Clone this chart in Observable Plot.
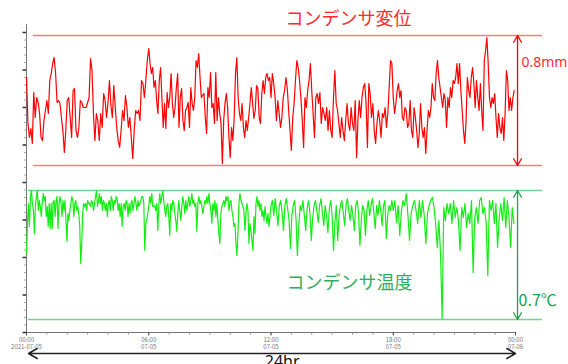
<!DOCTYPE html>
<html><head><meta charset="utf-8">
<script src="https://cdn.jsdelivr.net/npm/d3@7"></script>
<script src="https://cdn.jsdelivr.net/npm/@observablehq/plot@0.6"></script>
<style>html,body{margin:0;padding:0;background:#fff;overflow:hidden;} #chart svg{display:block;}</style>
</head><body><div id="chart"></div>
<script>
// Condenser displacement (raw sensor units), four 6-hour blocks
const dispQ1 = [10.20,8.36,7.80,8.16,7.56,9.60,8.60,9.40,9.20,8.76,7.80,7.68,8.48,8.88,9.28,8.76,10.08,10.36,10.76,11.00,10.36,9.20,9.28,9.16,8.60,8.08,7.20,8.08,9.28,9.40,8.60,7.80,9.68,9.76,8.08,7.80,8.20,9.28,9.20,9.00,9.00,9.00,9.20,9.40,10.96,10.48,8.76,7.68,8.76,8.48,7.68,8.76,8.20,9.56,9.28,8.60,9.20,10.08,9.08,8.60,9.88,9.00,8.20,7.68,7.40,8.08,8.88,8.48,9.48,9.00,8.20,8.60,7.80,6.96,8.08,8.88,8.76,8.88,8.48,10.08,9.96,9.40,10.08,10.88];
const dispQ2 = [11.36,10.76,10.36,10.60,9.80,10.08,9.28,8.76,10.08,10.60,9.40,8.20,9.16,8.16,9.60,9.00,9.40,10.36,9.16,8.60,9.00,9.80,10.36,8.20,9.40,9.76,8.48,8.08,8.88,9.00,9.20,8.20,9.80,9.16,8.88,9.40,10.88,10.60,11.16,10.20,9.40,9.48,9.56,8.60,7.96,9.80,9.40,10.40,9.00,9.16,8.36,10.40,8.48,9.40,8.76,8.36,6.76,8.48,9.16,9.56,9.00,7.80,7.00,8.20,7.68,8.60,10.36,11.00,9.40,8.76,8.48,9.16,8.20,7.80,8.48,8.08,8.60,9.16,9.80,9.16,8.56,8.88,9.88,9.76,8.60,8.36,9.56,10.08,9.56,10.20,10.36,10.08,10.20];
const dispQ3 = [9.40,10.36,9.96,9.40,8.48,9.28,8.76,8.20,8.60,9.40,9.68,10.20,9.76,8.88,8.08,7.28,8.60,9.16,10.08,10.88,10.60,10.08,9.40,8.48,7.40,9.40,9.00,9.68,10.08,10.76,9.68,8.76,7.80,9.40,9.56,9.16,9.60,8.36,9.00,8.76,8.48,9.00,8.08,8.88,8.08,7.80,9.40,10.48,9.16,8.88,8.36,7.80,8.60,8.08,7.68,8.48,9.16,8.36,8.08,9.00,8.36,8.08,9.28,7.00,8.48,9.28,8.60,9.40,9.80,9.96,9.16,7.40,9.96,9.56,8.60,9.16,8.08,7.56,8.36,8.88,8.48,7.80,8.76,8.60,9.00,8.20,8.76,9.80,10.88,10.76];
const dispQ4 = [9.40,8.76,9.16,9.68,9.96,9.40,9.68,8.60,8.48,9.00,8.88,8.20,8.36,9.28,8.08,7.80,9.00,8.60,8.08,7.40,7.96,9.16,8.20,7.80,8.20,7.16,8.08,8.88,8.60,9.00,9.96,9.40,9.28,10.36,10.88,10.20,9.80,9.40,9.00,9.56,9.28,8.20,9.40,9.00,9.80,9.40,10.08,9.96,10.20,10.76,9.96,10.76,9.68,8.88,8.08,7.56,8.48,10.20,9.68,9.40,10.20,10.60,9.96,9.00,10.08,9.40,8.88,9.96,8.88,8.08,10.88,11.28,11.80,10.76,9.40,9.00,9.40,9.16,9.56,8.60,7.80,8.76,8.20,7.96,8.60,7.68,8.76,10.48,10.08,8.88,9.40,8.88,9.40,9.68];

// Condenser temperature (raw sensor units), four 6-hour blocks
const tempQ1 = [3.16,4.36,5.16,4.24,5.44,5.68,5.16,4.88,3.96,5.04,5.44,5.68,4.88,5.28,5.04,4.64,5.16,5.56,5.28,5.44,4.64,5.04,4.24,5.16,4.16,5.16,4.16,5.24,5.28,4.64,5.28,5.44,4.16,5.16,5.44,5.16,4.64,5.28,4.88,5.28,4.48,3.64,4.76,4.48,4.88,5.16,5.44,5.28,4.64,5.16,5.28,4.88,5.04,4.76,4.24,2.76,3.56,4.76,5.16,5.04,5.16,4.88,5.28,5.16,5.16,5.04,5.28,5.16,4.88,5.16,5.44,5.68,5.04,5.28,5.56,5.16,5.44,4.88,5.28,5.16,4.88,5.16,4.64,5.16,5.28,4.88,5.44,5.28,4.88,5.28,5.16,5.44,5.28,4.88,5.16,4.64,5.16,4.24,5.04,5.16,4.88,5.28,5.16,4.64,5.16,4.76,5.16,5.28,4.88,5.16,5.44,5.16,4.88,5.28,5.04,5.16,5.28,5.44,5.44,5.16,3.28,4.36,4.48,4.76];
const tempQ2 = [5.04,5.44,5.16,5.56,5.04,5.08,5.04,4.88,5.16,4.08,5.04,5.56,5.16,5.44,5.68,5.28,4.88,4.64,5.04,5.16,4.64,3.88,5.16,4.88,5.28,5.16,4.76,4.48,4.04,4.76,5.28,4.88,4.48,5.04,5.44,5.16,4.76,5.28,4.88,5.16,5.44,5.04,5.28,5.56,5.16,5.28,5.04,5.16,4.04,5.16,5.44,5.16,5.28,5.04,4.76,5.04,5.28,5.16,5.44,5.16,5.56,5.16,4.88,4.36,5.16,4.88,5.28,4.64,5.16,4.48,3.96,3.56,4.76,5.04,5.16,5.28,5.04,5.44,5.28,5.44,4.88,5.16,5.28,4.88,4.64,4.24,4.36,3.56,3.08,3.96,5.16,5.56,5.28,5.16,5.04,4.88,4.08,4.76,5.16,4.88,3.56,4.36,4.08,3.68,3.28,4.64,3.96,5.16,5.44,5.04,5.28,4.88,5.16,4.64,4.88,4.48,5.04,4.64,4.36,4.76,4.24,4.64];
const tempQ3 = [5.08,5.28,4.68,5.36,4.88,4.28,5.08,5.28,4.80,4.08,5.08,5.36,4.96,4.48,3.36,4.68,5.08,5.28,4.56,3.08,4.28,5.08,4.88,5.28,4.68,4.08,4.96,5.28,4.80,3.68,4.56,5.08,5.28,4.88,4.40,5.08,5.36,4.80,4.28,5.08,4.68,4.00,4.96,5.28,4.68,3.28,4.40,5.08,3.68,4.68,5.08,5.28,4.80,4.28,5.08,5.36,4.88,4.48,5.08,4.68,4.08,5.08,5.28,4.80,3.48,4.48,5.08,4.88,3.88,4.88,5.28,4.68,5.08,5.36,4.80,4.16,5.08,4.68,5.28,4.88,4.28,5.08,5.28,3.76,4.68,5.08,4.88,5.28];
const tempQ4 = [4.88,5.28,4.40,5.08,3.88,4.88,5.28,5.08,5.56,4.68,3.68,4.76,5.08,5.28,4.88,4.36,5.28,4.60,5.28,4.68,3.56,4.76,5.08,5.28,5.40,5.00,4.36,3.40,4.48,3.16,0.56,5.00,4.48,5.16,4.76,5.16,4.36,5.28,4.60,5.00,4.48,3.28,5.00,4.60,5.16,4.20,4.76,4.36,5.28,2.40,4.60,5.00,4.36,5.28,5.40,4.76,5.00,4.36,2.28,5.28,4.88,5.28,4.36,5.16,3.40,4.60,5.16,4.48,5.40,4.20,5.28,4.60,3.40,5.00,4.36];

// Envelope (min / max) of each series
const dispBand = [6.68, 11.88];
const tempBand = [0.52, 5.68];

// Axis tick labels
const majorHours = [0, 6, 12, 18, 24];
const hourLabels = ["00:00", "06:00", "12:00", "18:00", "00:00"];
const dateLabels = ["2021-07-05", "07-05", "07-05", "07-05", "07-06"];
const yMajor = [0, 1.5, 3, 4.5, 6, 7.5, 9, 10.5, 12];

// Annotation texts
const dispTitle = "コンデンサ変位";
const tempTitle = "コンデンサ温度";
const dispRange = "0.8mm";
const tempRange = "0.7℃";
const spanLabel = "24hr";

const start = Date.UTC(2021, 6, 5);
const HOUR = 3600e3;
const hr = h => new Date(start + h * HOUR);

function toRows(blocks) {
  return blocks.flatMap((arr, q) => arr.map((v, i) => ({t: hr(q * 6 + 6 * i / arr.length), v})));
}
const disp = toRows([dispQ1, dispQ2, dispQ3, dispQ4]);
const temp = toRows([tempQ1, tempQ2, tempQ3, tempQ4]);

const yMinor = d3.range(0, 41).map(i => +(i * 0.3).toFixed(2));
const hourTicks = d3.range(0, 25).map(hr);

const red = "#ff0000", redLight = "#ff7a7a";
const green = "#11ee11", greenLight = "#6fd395", greenDark = "#22a052";

function doubleArrow(band) {
  const mid = (band[0] + band[1]) / 2;
  return [{a: mid, b: band[1]}, {a: mid, b: band[0]}];
}

const chart = Plot.plot({
  width: 568, height: 364,
  marginLeft: 26, marginRight: 53, marginTop: 24, marginBottom: 32,
  style: {fontFamily: "'Noto Sans CJK JP', 'Noto Sans', sans-serif", background: "#fff", overflow: "visible"},
  x: {type: "utc", domain: [hr(0), hr(24)], label: null},
  y: {domain: [0, 12.32], label: null},
  marks: [
    Plot.ruleX([hr(0)], {stroke: "#777"}),
    Plot.ruleY([0], {stroke: "#777"}),
    Plot.axisY(yMinor, {tickSize: 2, tickFormat: () => "", stroke: "#aaa", label: null}),
    Plot.axisY(yMajor, {tickSize: 3.5, tickFormat: () => "", stroke: "#333", strokeWidth: 1.5, label: null}),
    Plot.axisX(hourTicks, {tickSize: 2.5, tickFormat: () => "", stroke: "#888", label: null}),
    Plot.axisX(majorHours.map(hr), {
      tickSize: 3.5, tickPadding: 1, stroke: "#555", fill: "#777", fontSize: 6, lineHeight: 1.2, label: null,
      tickFormat: d => { const i = majorHours.indexOf(Math.round((d - start) / HOUR)); return hourLabels[i] + "\n" + dateLabels[i]; }
    }),
    // envelopes
    Plot.ruleY(dispBand, {x1: () => hr(0.34), x2: () => hr(25.33), stroke: redLight, strokeWidth: 1.5}),
    Plot.ruleY(tempBand, {x1: () => hr(0.1), x2: () => hr(25.33), stroke: greenLight, strokeWidth: 1.3}),
    // series
    Plot.line(disp, {x: "t", y: "v", stroke: red, strokeWidth: 1.2}),
    Plot.line(temp, {x: "t", y: "v", stroke: green, strokeWidth: 1.2}),
    // range arrows
    Plot.arrow(doubleArrow(dispBand), {x1: () => hr(24.1), x2: () => hr(24.1), y1: "a", y2: "b", stroke: red, strokeWidth: 1.3, headLength: 9}),
    Plot.arrow(doubleArrow(tempBand), {x1: () => hr(24.1), x2: () => hr(24.1), y1: "a", y2: "b", stroke: greenDark, strokeWidth: 1.3, headLength: 9}),
    Plot.arrow([{a: 12, b: 24}, {a: 12, b: 0.1}], {x1: d => hr(d.a), x2: d => hr(d.b), y1: () => -0.84, y2: () => -0.84, stroke: "#222", strokeWidth: 1.5, headLength: 10}),
    // annotations
    Plot.text([dispTitle], {x: () => hr(15.8), y: () => 12.55, text: d => d, fill: "#ff2a2a", fontSize: 18}),
    Plot.text([tempTitle], {x: () => hr(15.85), y: () => 1.96, text: d => d, fill: "#2fae62", fontSize: 18}),
    Plot.text([dispRange], {x: () => hr(24.29), y: () => 10.8, text: d => d, fill: "#ff2a2a", fontSize: 14, textAnchor: "start", fontFamily: "'Noto Sans', sans-serif"}),
    Plot.text([tempRange], {x: () => hr(24.15), y: () => 1.28, text: d => d, fill: "#22a052", fontSize: 16, textAnchor: "start"}),
    Plot.text([spanLabel], {x: () => hr(12.55), y: () => -1.16, text: d => d, fill: "#111", fontSize: 16, fontFamily: "'Noto Sans', sans-serif"})
  ]
});
document.getElementById("chart").append(chart);
</script>
</body></html>
